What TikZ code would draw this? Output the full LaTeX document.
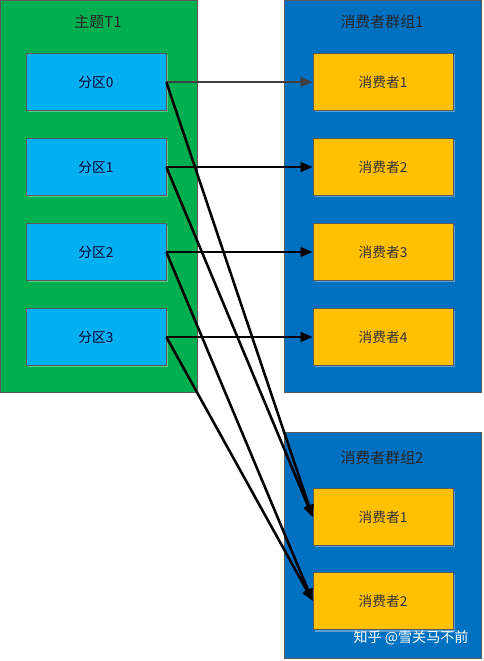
\documentclass[tikz,border=0pt]{standalone}
\usepackage{fontspec}
\setmainfont{Noto Sans CJK SC}
\usetikzlibrary{arrows.meta,shadows}
\definecolor{topicgreen}{HTML}{00B050}
\definecolor{groupblue}{HTML}{0070C0}
\definecolor{partblue}{HTML}{00B0F0}
\definecolor{consorange}{HTML}{FFC000}
\definecolor{edgegray}{HTML}{595959}
\tikzset{
    group/.style = {draw=edgegray, line width=0.4pt, anchor=north west, inner sep=0pt, minimum width=3.94cm},
    grouptitle/.style = {text=black!85, font=\fontsize{8.5}{10}\selectfont},
    partbox/.style = {draw=edgegray, line width=0.4pt, fill=partblue, text=black!80!blue,
        minimum width=2.8cm, minimum height=1.14cm, font=\fontsize{7.8}{9}\selectfont,
        drop shadow={shadow xshift=0.04cm, shadow yshift=-0.04cm, fill=white, opacity=0.35}},
    consbox/.style = {partbox, fill=consorange, text=black!80},
    link/.style = {line width=1.45pt, -{Triangle[length=0.24cm,width=0.19cm]}},
}
\begin{document}
\begin{tikzpicture}[x=0.02cm, y=-0.02cm, font=\fontsize{7.8}{9}\selectfont]
    \useasboundingbox (0,0) rectangle (483,661);
    % containers
    \node[group, fill=topicgreen, minimum height=7.84cm] (topic) at (0,0) {};
    \node[group, fill=groupblue, minimum height=7.84cm] (groupa) at (284,0) {};
    \node[group, fill=groupblue, minimum height=4.52cm] (groupb) at (284,432) {};
    \node[grouptitle] (topictitle) at (98,22) {主题T1};
    \node[grouptitle] (groupatitle) at (382,22) {消费者群组1};
    \node[grouptitle] (groupbtitle) at (382,458) {消费者群组2};

    % partitions and consumers
    \foreach \i/\y in {0/82,1/167,2/252,3/337} {
        \node[partbox] (p\i) at (96,\y) {分区\i};
    }
    \foreach \i/\y in {1/82,2/167,3/252,4/337} {
        \node[consbox] (a\i) at (383,\y) {消费者\i};
    }
    \node[consbox] (b1) at (383,517) {消费者1};
    \node[consbox] (b2) at (383,601) {消费者2};

    % group 1
    \draw[link, draw=black!75, line width=1.2pt] (p0.east) -- (a1.west);
    \foreach \i/\j in {1/2,2/3,3/4} {
        \draw[link] (p\i.east) -- (a\j.west);
    }
    % group 2
    \foreach \i/\j in {0/1,1/1,2/2,3/2} {
        \draw[link] (p\i.east) -- (b\j.west);
    }

    \node[text=white, font=\fontsize{8}{9}\selectfont] (mark) at (411,638) {知乎 @雪关马不前};
\end{tikzpicture}
\end{document}
